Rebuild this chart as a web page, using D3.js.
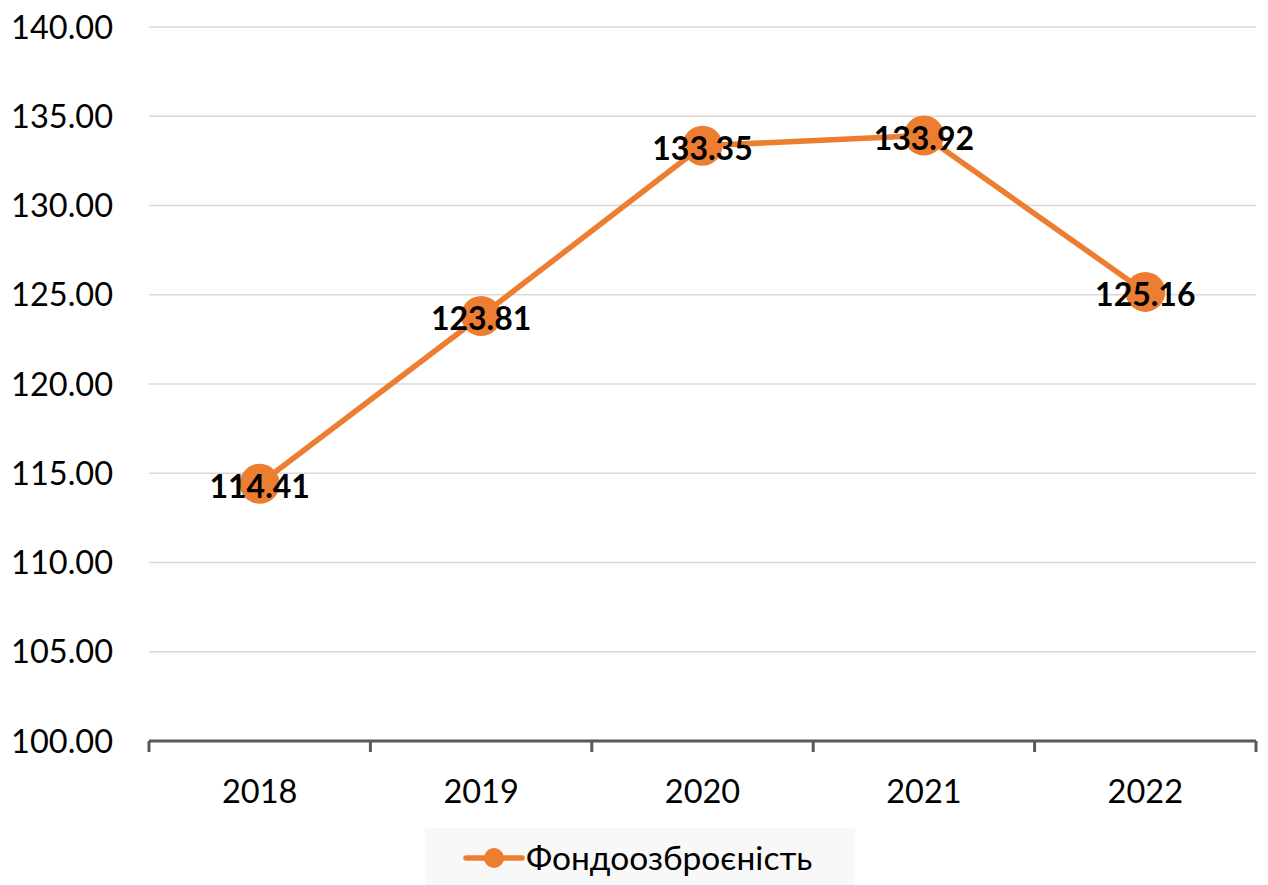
<!DOCTYPE html>
<html>
<head>
<meta charset="utf-8">
<script src="https://cdn.jsdelivr.net/npm/d3@7"></script>
<style>
  body { margin: 0; background: #fff; }
  svg { display: block; font-family: Lato, "Open Sans", sans-serif; }
</style>
</head>
<body>
<div id="chart"></div>
<script>
const years = ["2018", "2019", "2020", "2021", "2022"];
const values = [114.41, 123.81, 133.35, 133.92, 125.16];
const yTicks = [100, 105, 110, 115, 120, 125, 130, 135, 140];
const seriesName = "Фондоозброєність";

const width = 1268, height = 885;
const plotLeft = 149, plotRight = 1256, plotTop = 27, plotBottom = 741;
const orange = "#ED7D31";

const svg = d3.select("#chart").append("svg")
  .attr("width", width)
  .attr("height", height);

const x = d3.scaleBand().domain(years).range([plotLeft, plotRight]);
const y = d3.scaleLinear().domain([100, 140]).range([plotBottom, plotTop]);

// gridlines
svg.append("g")
  .selectAll("line")
  .data(yTicks.filter(d => d > 100))
  .join("line")
  .attr("x1", plotLeft).attr("x2", plotRight)
  .attr("y1", d => y(d)).attr("y2", d => y(d))
  .attr("stroke", "#d9d9d9")
  .attr("stroke-width", 1.3);

// y labels
svg.append("g")
  .selectAll("text")
  .data(yTicks)
  .join("text")
  .attr("x", 113)
  .attr("y", d => y(d))
  .attr("dy", "0.36em")
  .attr("text-anchor", "end")
  .attr("font-size", 32.5)
  .attr("fill", "#000")
  .text(d => d.toFixed(2));

// x axis
svg.append("line")
  .attr("x1", plotLeft).attr("x2", plotRight)
  .attr("y1", plotBottom).attr("y2", plotBottom)
  .attr("stroke", "#595959").attr("stroke-width", 3);

const bounds = years.map(d => x(d)).concat([plotRight]);
svg.append("g")
  .selectAll("line")
  .data(bounds)
  .join("line")
  .attr("x1", d => d).attr("x2", d => d)
  .attr("y1", plotBottom).attr("y2", plotBottom + 11)
  .attr("stroke", "#595959").attr("stroke-width", 3);

svg.append("g")
  .selectAll("text")
  .data(years)
  .join("text")
  .attr("x", d => x(d) + x.bandwidth() / 2)
  .attr("y", 803)
  .attr("text-anchor", "middle")
  .attr("font-size", 32.5)
  .attr("fill", "#000")
  .text(d => d);

// line
const pts = years.map((d, i) => [x(d) + x.bandwidth() / 2, y(values[i])]);
svg.append("path")
  .attr("d", d3.line()(pts))
  .attr("fill", "none")
  .attr("stroke", orange)
  .attr("stroke-width", 5.5)
  .attr("stroke-linejoin", "round");

svg.append("g")
  .selectAll("circle")
  .data(pts)
  .join("circle")
  .attr("cx", d => d[0]).attr("cy", d => d[1])
  .attr("r", 20)
  .attr("fill", orange);

svg.append("g")
  .selectAll("text")
  .data(values)
  .join("text")
  .attr("x", (d, i) => pts[i][0])
  .attr("y", (d, i) => pts[i][1] + 14)
  .attr("text-anchor", "middle")
  .attr("font-size", 32)
  .attr("font-weight", "bold")
  .attr("fill", "#000")
  .text(d => d.toFixed(2));

// legend
const lg = svg.append("g");
lg.append("rect")
  .attr("x", 425).attr("y", 828)
  .attr("width", 430).attr("height", 57)
  .attr("fill", "#f8f8f8");
lg.append("line")
  .attr("x1", 466).attr("x2", 522)
  .attr("y1", 858).attr("y2", 858)
  .attr("stroke", orange).attr("stroke-width", 5.5)
  .attr("stroke-linecap", "round");
lg.append("circle")
  .attr("cx", 494).attr("cy", 858).attr("r", 10)
  .attr("fill", orange);
lg.append("text")
  .attr("x", 526).attr("y", 870)
  .attr("font-size", 33.5)
  .attr("fill", "#000")
  .text(seriesName);
</script>
</body>
</html>
